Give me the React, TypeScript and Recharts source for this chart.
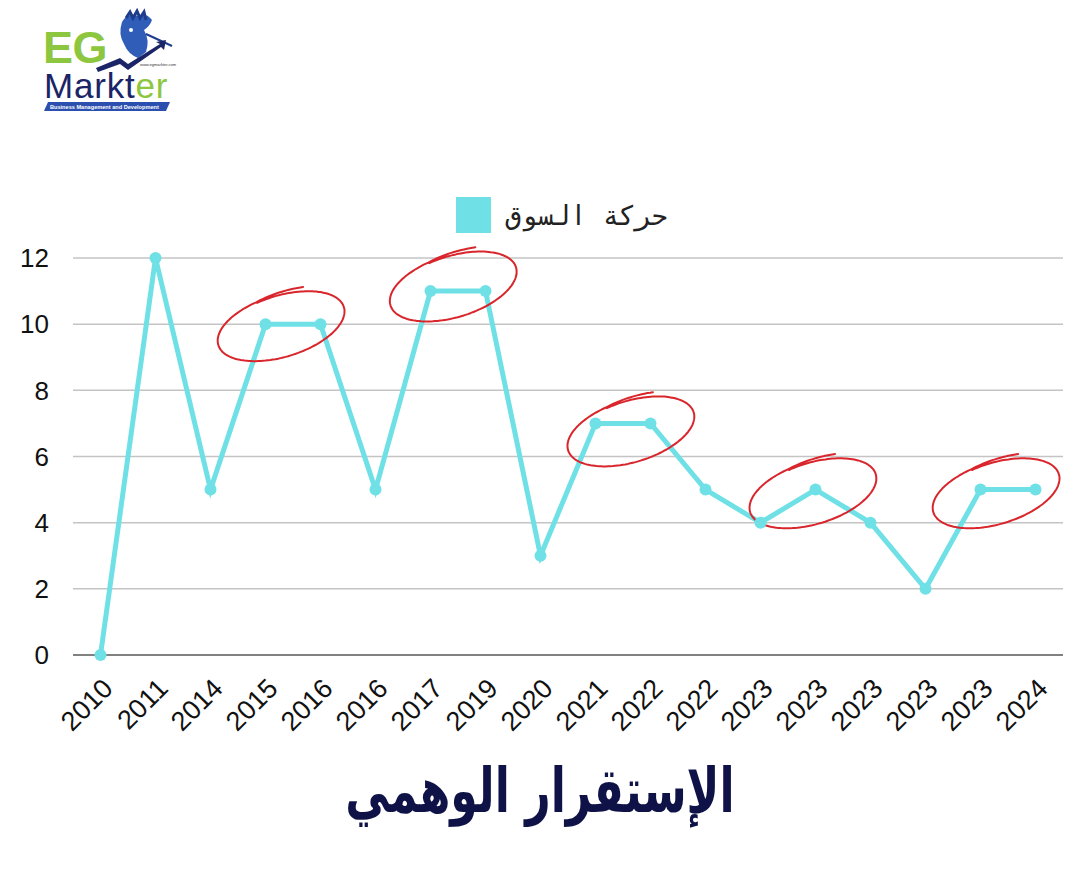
import React from 'react';
import {
    LineChart,
    Line,
    XAxis,
    YAxis,
    CartesianGrid,
    Legend,
    ReferenceDot,
} from 'recharts';

const categories = [
    '2010', '2011', '2014', '2015', '2016', '2016', '2017', '2019', '2020',
    '2021', '2022', '2022', '2023', '2023', '2023', '2023', '2023', '2024',
];
const marketValues = [0, 12, 5, 10, 10, 5, 11, 11, 3, 7, 7, 5, 4, 5, 4, 2, 5, 5];
const yTicks = [0, 2, 4, 6, 8, 10, 12];
const xTicks = categories.map((_, i) => i);
const seriesName = 'حركة السوق';
const chartTitle = 'الإستقرار الوهمي';

// circled spots (x = category index, y = value), drawn as hand-drawn red rings
const highlightX = [3.29, 6.42, 9.65, 12.96, 16.29];
const highlightY = [9.95, 11.15, 6.77, 4.9, 4.9];

const LINE_COLOR = '#6FE1E6';
const RING_COLOR = '#D8262C';

const data = categories.map((label, i) => ({ idx: i, label, value: marketValues[i] }));

function ringPath(cx: number, cy: number): string {
    const a = 66;
    const b = 31;
    const rot = (-17 * Math.PI) / 180;
    const start = (-105 * Math.PI) / 180;
    const tail = 0.75;
    const pts: string[] = [];
    for (let t = 0; t <= Math.PI * 2 + tail; t += 0.04) {
        const over = Math.max(0, t - Math.PI * 2) / tail;
        const s = 0.97 + 0.03 * Math.min(1, t / Math.PI) + 0.11 * over;
        const ang = start + t;
        const ex = a * s * Math.cos(ang);
        const ey = b * s * Math.sin(ang);
        const x = cx + ex * Math.cos(rot) - ey * Math.sin(rot);
        const y = cy + ex * Math.sin(rot) + ey * Math.cos(rot);
        pts.push(`${x.toFixed(1)},${y.toFixed(1)}`);
    }
    return 'M' + pts.join(' L');
}

/* eslint-disable @typescript-eslint/no-explicit-any */
function Ring(props: any) {
    const { cx, cy } = props;
    if (cx == null || cy == null) return <g />;
    return (
        <path
            d={ringPath(cx, cy)}
            fill="none"
            stroke={RING_COLOR}
            strokeWidth={2}
            strokeLinecap="round"
            strokeLinejoin="round"
        />
    );
}

function YearTick({ x, y, payload }: any) {
    return (
        <text
            x={x + 14}
            y={y + 33}
            transform={`rotate(-45, ${x + 14}, ${y + 33})`}
            textAnchor="end"
            fontSize={27}
            fill="#111"
            fontFamily="'Liberation Sans', Arial, sans-serif"
        >
            {categories[payload.value]}
        </text>
    );
}

function LegendContent() {
    return (
        <div style={{ display: 'flex', alignItems: 'center', justifyContent: 'center', height: 36 }}>
            <div style={{ width: 35, height: 36, background: LINE_COLOR }} />
            <span
                style={{
                    marginLeft: 14,
                    fontSize: 27,
                    color: '#222',
                    fontFamily: "'DejaVu Sans Mono', monospace",
                    direction: 'rtl',
                }}
            >
                {seriesName}
            </span>
        </div>
    );
}

function Logo() {
    return (
        <svg width={200} height={120} style={{ position: 'absolute', left: 0, top: 0 }}>
            {/* bird */}
            <path d="M122 22 Q128 12 138 16 Q146 12 152 20 Q150 26 144 30 Q150 40 146 52 L138 58 Q128 54 124 44 Q118 34 122 22 Z" fill="#2F5DB8" />
            <path d="M126 18 l4 -6 l3 6 l4 -7 l3 7 l4 -6 l2 8" fill="none" stroke="#1E3C8C" strokeWidth={3} />
            <circle cx={131} cy={30} r={2} fill="#fff" />
            <path d="M146 34 L172 46" stroke="#1E3C8C" strokeWidth={2} />
            <path d="M96 68 L120 58 L128 64 L160 44 L156 42 L166 40 L164 50 L161 47 L128 70 L120 64 L98 72 Z" fill="#1B2466" />
            {/* EG */}
            <text x={43} y={63} fontSize={45} fontWeight={700} fill="#8DC63F" fontFamily="'Liberation Sans', Arial, sans-serif" letterSpacing={-0.5}>EG</text>
            <text x={140} y={66} fontSize={4} fill="#333" fontFamily="'Liberation Sans', Arial, sans-serif">www.egmarkter.com</text>
            {/* Markter */}
            <text x={44} y={98} fontSize={35} fill="#1B2466" fontFamily="'Liberation Sans', Arial, sans-serif" letterSpacing={0.8}>
                Markt<tspan fill="#8DC63F">er</tspan>
            </text>
            <path d="M48 102 L170 102 L166 111 L44 111 Z" fill="#2B4FAE" />
            <text x={50} y={109} fontSize={5.6} fontWeight={700} fill="#fff" fontFamily="'Liberation Sans', Arial, sans-serif">Business Management and Development</text>
        </svg>
    );
}

export default function App() {
    return (
        <div style={{ position: 'absolute', left: 0, top: 0, width: 1080, height: 884, background: '#fff' }}>
            <Logo />
            <LineChart
                width={1080}
                height={884}
                data={data}
                margin={{ top: 222, right: 17, bottom: 169, left: 0 }}
            >
                <CartesianGrid horizontal vertical={false} stroke="#C4C4C4" strokeWidth={1.5} />
                <XAxis
                    dataKey="idx"
                    type="number"
                    domain={[-0.5, 17.5]}
                    ticks={xTicks}
                    interval={0}
                    height={60}
                    tickLine={false}
                    tickSize={0}
                    stroke="#666"
                    strokeWidth={1.5}
                    tick={<YearTick />}
                />
                <YAxis
                    domain={[0, 12]}
                    ticks={yTicks}
                    width={73}
                    axisLine={false}
                    tickLine={false}
                    tickSize={0}
                    tickMargin={24}
                    tick={{ fontSize: 26, fill: '#111', fontFamily: "'Liberation Sans', Arial, sans-serif" }}
                />
                <Legend
                    verticalAlign="top"
                    content={<LegendContent />}
                    wrapperStyle={{ top: 197, left: 352, width: 420, height: 36 }}
                />
                <Line
                    type="linear"
                    dataKey="value"
                    name={seriesName}
                    stroke={LINE_COLOR}
                    strokeWidth={5}
                    dot={{ r: 6, fill: LINE_COLOR, stroke: 'none' }}
                    activeDot={false}
                    isAnimationActive={false}
                />
                {highlightX.map((hx, i) => (
                    <ReferenceDot key={i} x={hx} y={highlightY[i]} r={1} shape={<Ring />} ifOverflow="visible" />
                ))}
            </LineChart>
            <div
                dir="rtl"
                style={{
                    position: 'absolute',
                    left: 240,
                    width: 600,
                    top: 760,
                    textAlign: 'center',
                    fontSize: 52,
                    fontWeight: 700,
                    color: '#0F1247',
                    fontFamily: "'DejaVu Sans', sans-serif",
                    transform: 'scale(0.85, 1.2)',
                    transformOrigin: '50% 50%',
                }}
            >
                {chartTitle}
            </div>
        </div>
    );
}
